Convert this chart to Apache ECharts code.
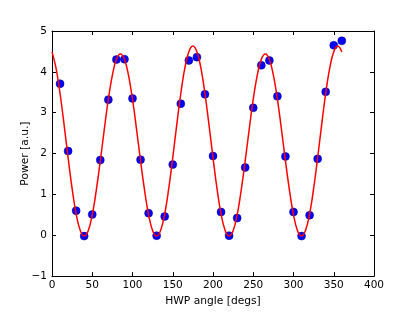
<!DOCTYPE html>
<html>
<head>
<meta charset="utf-8">
<script src="https://cdn.jsdelivr.net/npm/echarts@6/dist/echarts.min.js"></script>
<style>
html,body{margin:0;padding:0;background:#fff;}
#chart{width:415px;height:312px;}
</style>
</head>
<body>
<div id="chart"></div>
<script>
const xTicks = [0, 50, 100, 150, 200, 250, 300, 350, 400];
const yTicks = [-1, 0, 1, 2, 3, 4, 5];
const xLabel = 'HWP angle [degs]';
const yLabel = 'Power [a.u.]';

// measured points
const angles = [10, 20, 30, 40, 50, 60, 70, 80, 90, 100, 110, 120, 130, 140, 150, 160, 170, 180,
  190, 200, 210, 220, 230, 240, 250, 260, 270, 280, 290, 300, 310, 320, 330, 340, 350, 360];
const power = [3.71, 2.06, 0.60, -0.02, 0.51, 1.84, 3.32, 4.30, 4.31, 3.35, 1.85, 0.54, -0.01, 0.46, 1.73, 3.22, 4.28, 4.36,
  3.45, 1.94, 0.57, -0.01, 0.42, 1.66, 3.12, 4.16, 4.28, 3.40, 1.93, 0.57, -0.02, 0.49, 1.87, 3.51, 4.65, 4.76];

// fitted curve
const fitAngles = [0, 5, 10, 15, 20, 25, 30, 35, 40, 45, 50, 55, 60, 65, 70, 75, 80, 85, 90, 95, 100,
  105, 110, 115, 120, 125, 130, 135, 140, 145, 150, 155, 160, 165, 170, 175, 180, 185, 190, 195, 200,
  205, 210, 215, 220, 225, 230, 235, 240, 245, 250, 255, 260, 265, 270, 275, 280, 285, 290, 295, 300,
  305, 310, 315, 320, 325, 330, 335, 340, 345, 350, 355, 360];
const fitPower = [4.49, 4.09, 3.47, 2.71, 1.90, 1.14, 0.52, 0.12, -0.02,
  0.11, 0.50, 1.10, 1.82, 2.60, 3.33, 3.92, 4.31, 4.44, 4.31, 3.92, 3.33, 2.60, 1.82, 1.10, 0.50, 0.11, -0.02,
  0.12, 0.52, 1.14, 1.90, 2.71, 3.47, 4.09, 4.49, 4.63, 4.49, 4.09, 3.47, 2.71, 1.90, 1.14, 0.52, 0.12, -0.02,
  0.11, 0.50, 1.10, 1.82, 2.60, 3.33, 3.92, 4.31, 4.44, 4.31, 3.92, 3.33, 2.60, 1.82, 1.10, 0.50, 0.11, -0.02,
  0.12, 0.52, 1.14, 1.90, 2.71, 3.47, 4.09, 4.49, 4.63, 4.49];

const FONT = 'DejaVu Sans';
const fmt = v => (v < 0 ? '\u2212' + Math.abs(v) : String(v));
const spine = { show: true, onZero: false, lineStyle: { color: '#000', width: 1 } };
const tick = { show: true, inside: true, length: 4, lineStyle: { color: '#000', width: 1 } };

const xBase = {
  type: 'value', min: xTicks[0], max: xTicks[xTicks.length - 1], interval: xTicks[1] - xTicks[0],
  splitLine: { show: false }, axisLine: spine, axisTick: tick
};
const yBase = {
  type: 'value', min: yTicks[0], max: yTicks[yTicks.length - 1], interval: yTicks[1] - yTicks[0],
  splitLine: { show: false }, axisLine: spine, axisTick: tick
};

const chart = echarts.init(document.getElementById('chart'), null, { renderer: 'canvas' });
chart.setOption({
  backgroundColor: '#fff',
  animation: false,
  grid: { left: 52, top: 31, width: 322, height: 250, containLabel: false },
  xAxis: [
    Object.assign({}, xBase, {
      position: 'bottom',
      axisLabel: { show: true, margin: 4, color: '#000', fontFamily: FONT, fontSize: 10.5, formatter: fmt },
      name: xLabel, nameLocation: 'middle', nameGap: 15,
      nameTextStyle: { color: '#000', fontFamily: FONT, fontSize: 10.7 }
    }),
    Object.assign({}, xBase, { position: 'top', axisLabel: { show: false } })
  ],
  yAxis: [
    Object.assign({}, yBase, {
      position: 'left',
      axisLabel: { show: true, margin: 5, color: '#000', fontFamily: FONT, fontSize: 10.5, formatter: fmt },
      name: yLabel, nameLocation: 'middle', nameGap: 21, nameMoveOverlap: false,
      nameTextStyle: { color: '#000', fontFamily: FONT, fontSize: 10.7 }
    }),
    Object.assign({}, yBase, { position: 'right', axisLabel: { show: false } })
  ],
  series: [
    {
      type: 'scatter', xAxisIndex: 0, yAxisIndex: 0,
      data: angles.map((a, i) => [a, power[i]]),
      symbol: 'circle', symbolSize: 8,
      itemStyle: { color: '#0000ff', borderColor: '#00008b', borderWidth: 0.5, opacity: 1 },
      z: 2
    },
    {
      type: 'line', xAxisIndex: 0, yAxisIndex: 0,
      data: fitAngles.map((a, i) => [a, fitPower[i]]),
      showSymbol: false, smooth: 0.4,
      lineStyle: { color: '#ff0000', width: 1.5 },
      z: 3
    }
  ]
});
</script>
</body>
</html>
